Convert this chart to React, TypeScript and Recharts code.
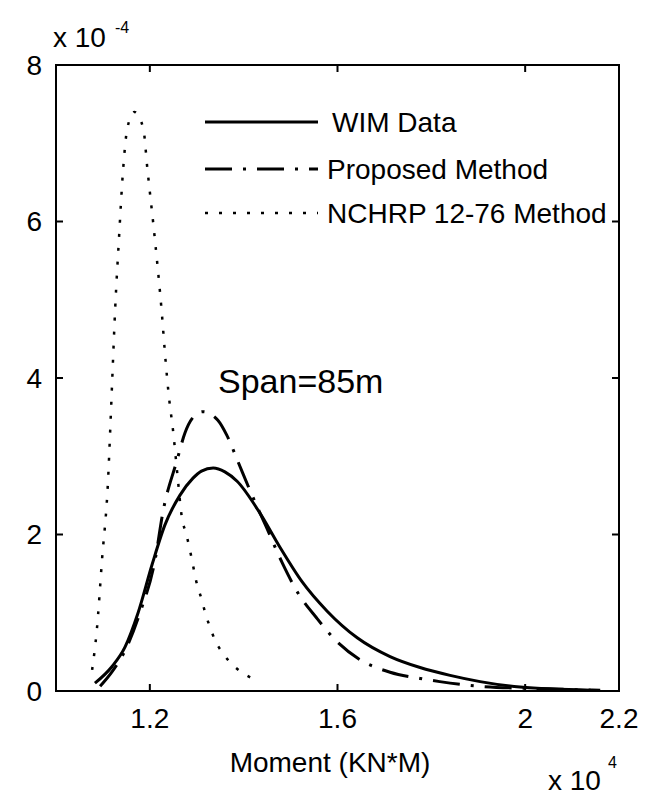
import { CartesianGrid, Line, LineChart, ReferenceArea, XAxis, YAxis } from "recharts";

const W = 646;
const H = 787;
const FONT = "'Liberation Sans', Arial, sans-serif";
const INK = "#000";
const TICK_LEN = 7;

// moment in units of 1e4 KN*M, density in units of 1e-4
const xTicks = [1.2, 1.6, 2, 2.2];
const yTicks = [0, 2, 4, 6, 8];

const wimX = [1.083, 1.119, 1.147, 1.175, 1.205, 1.232, 1.264, 1.292, 1.31, 1.335, 1.36, 1.386, 1.435, 1.477, 1.524, 1.578, 1.642, 1.712, 1.776, 1.84, 1.904, 1.989, 2.14];
const wimY = [0.1, 0.31, 0.56, 1.0, 1.62, 2.12, 2.5, 2.72, 2.81, 2.85, 2.8, 2.68, 2.27, 1.84, 1.4, 1.02, 0.68, 0.44, 0.3, 0.2, 0.12, 0.05, 0.01];

const propX = [1.094, 1.12, 1.15, 1.179, 1.211, 1.228, 1.258, 1.275, 1.29, 1.313, 1.345, 1.364, 1.388, 1.413, 1.448, 1.482, 1.516, 1.556, 1.599, 1.648, 1.712, 1.776, 1.818, 1.904, 2.03, 2.16];
const propY = [0.06, 0.25, 0.55, 1.0, 1.67, 2.29, 2.95, 3.3, 3.48, 3.57, 3.46, 3.27, 2.93, 2.57, 2.1, 1.64, 1.25, 0.93, 0.63, 0.4, 0.24, 0.16, 0.12, 0.06, 0.03, 0.01];

const nchrpX = [1.077, 1.087, 1.098, 1.111, 1.116, 1.12, 1.126, 1.134, 1.143, 1.152, 1.167, 1.186, 1.195, 1.211, 1.225, 1.234, 1.24, 1.25, 1.259, 1.268, 1.278, 1.289, 1.299, 1.311, 1.318, 1.328, 1.339, 1.357, 1.381, 1.415];
const nchrpY = [0.27, 0.78, 1.67, 2.7, 3.4, 4.0, 4.87, 5.76, 6.66, 7.19, 7.4, 7.19, 6.66, 5.76, 4.87, 4.19, 3.8, 3.3, 2.75, 2.23, 2.0, 1.7, 1.4, 1.16, 1.0, 0.82, 0.65, 0.47, 0.31, 0.17];

const toRows = (xs: number[], ys: number[]) => xs.map((x, i) => ({ x, y: ys[i] }));

const SERIES = [
  { name: "WIM Data", rows: toRows(wimX, wimY), dash: undefined, width: 3 },
  { name: "Proposed Method", rows: toRows(propX, propY), dash: "27 11 3 11", width: 3 },
  { name: "NCHRP 12-76 Method", rows: toRows(nchrpX, nchrpY), dash: "3 11", width: 2.5 },
];

const axisLine = { stroke: INK, strokeWidth: 2 };

// MATLAB style: tick marks point into the plot box
const BOTTOM_GAP = 17;
const LEFT_GAP = 14;

function BottomTick({ x, y, payload }: any) {
  const axisY = y - BOTTOM_GAP;
  return (
    <g>
      <line x1={x} x2={x} y1={axisY} y2={axisY - TICK_LEN} stroke={INK} strokeWidth={2} />
      <text x={x} y={y} dy="0.71em" textAnchor="middle" fontSize={28} fontFamily={FONT} fill={INK}>
        {payload.value}
      </text>
    </g>
  );
}

function LeftTick({ x, y, payload }: any) {
  const axisX = x + LEFT_GAP;
  return (
    <g>
      <line x1={axisX} x2={axisX + TICK_LEN} y1={y} y2={y} stroke={INK} strokeWidth={2} />
      <text x={x} y={y} dy="0.355em" textAnchor="end" fontSize={28} fontFamily={FONT} fill={INK}>
        {payload.value}
      </text>
    </g>
  );
}

function TopTick({ x, y }: any) {
  return <line x1={x} x2={x} y1={y} y2={y + TICK_LEN} stroke={INK} strokeWidth={2} />;
}

function RightTick({ x, y }: any) {
  return <line x1={x} x2={x - TICK_LEN} y1={y} y2={y} stroke={INK} strokeWidth={2} />;
}

function Overlay() {
  const legendY = [114, 161, 205];
  return (
    <svg width={W} height={H} style={{ position: "absolute", left: 0, top: 0, pointerEvents: "none" }}>
      <g fontFamily={FONT} fill={INK}>
        {SERIES.map((s, i) => (
          <g key={s.name}>
            <line x1={197} x2={310} y1={legendY[i]} y2={legendY[i]} stroke={INK} strokeWidth={s.width} strokeDasharray={s.dash} />
            <text x={i === 0 ? 324 : 319} y={legendY[i] + 10} fontSize={28}>{s.name}</text>
          </g>
        ))}
        <text x={210} y={385} fontSize={34}>Span=85m</text>
        <text x={45} y={39} fontSize={28}>x 10</text>
        <text x={107} y={25} fontSize={16}>-4</text>
        <text x={322} y={764} fontSize={28} textAnchor="middle">Moment (KN*M)</text>
        <text x={540} y={782} fontSize={28}>x 10</text>
        <text x={600} y={760} fontSize={16}>4</text>
      </g>
    </svg>
  );
}

export default function App() {
  return (
    <div style={{ position: "relative", width: W, height: H, background: "#fff" }}>
      <LineChart width={W} height={H} margin={{ top: 56, right: 34, left: 0, bottom: 0 }}>
        <CartesianGrid stroke="none" />
        <XAxis
          type="number"
          dataKey="x"
          domain={[1, 2.2]}
          ticks={xTicks}
          interval={0}
          allowDataOverflow
          height={104}
          tick={<BottomTick />}
          tickSize={0}
          tickMargin={BOTTOM_GAP}
          axisLine={axisLine}
          tickLine={false}
        />
        <XAxis
          xAxisId="top"
          orientation="top"
          type="number"
          dataKey="x"
          domain={[1, 2.2]}
          ticks={xTicks}
          interval={0}
          allowDataOverflow
          height={1}
          tick={<TopTick />}
          tickSize={0}
          tickMargin={0}
          axisLine={axisLine}
          tickLine={false}
        />
        <YAxis
          type="number"
          domain={[0, 8]}
          ticks={yTicks}
          interval={0}
          allowDataOverflow
          width={48}
          tick={<LeftTick />}
          tickSize={0}
          tickMargin={LEFT_GAP}
          axisLine={axisLine}
          tickLine={false}
        />
        <YAxis
          yAxisId="right"
          orientation="right"
          type="number"
          domain={[0, 8]}
          ticks={yTicks}
          interval={0}
          allowDataOverflow
          width={1}
          tick={<RightTick />}
          tickSize={0}
          tickMargin={0}
          axisLine={axisLine}
          tickLine={false}
        />
        <ReferenceArea x1={1} x2={2.2} y1={0} y2={8} fill="none" stroke={INK} strokeWidth={2} ifOverflow="visible" />
        {SERIES.map((s, i) => (
          <Line
            key={s.name}
            data={s.rows}
            dataKey="y"
            name={s.name}
            xAxisId={i === 0 ? "top" : 0}
            yAxisId={i === 0 ? "right" : 0}
            type="monotone"
            stroke={INK}
            strokeWidth={s.width}
            strokeDasharray={s.dash}
            dot={false}
            activeDot={false}
            isAnimationActive={false}
          />
        ))}
      </LineChart>
      <Overlay />
    </div>
  );
}
